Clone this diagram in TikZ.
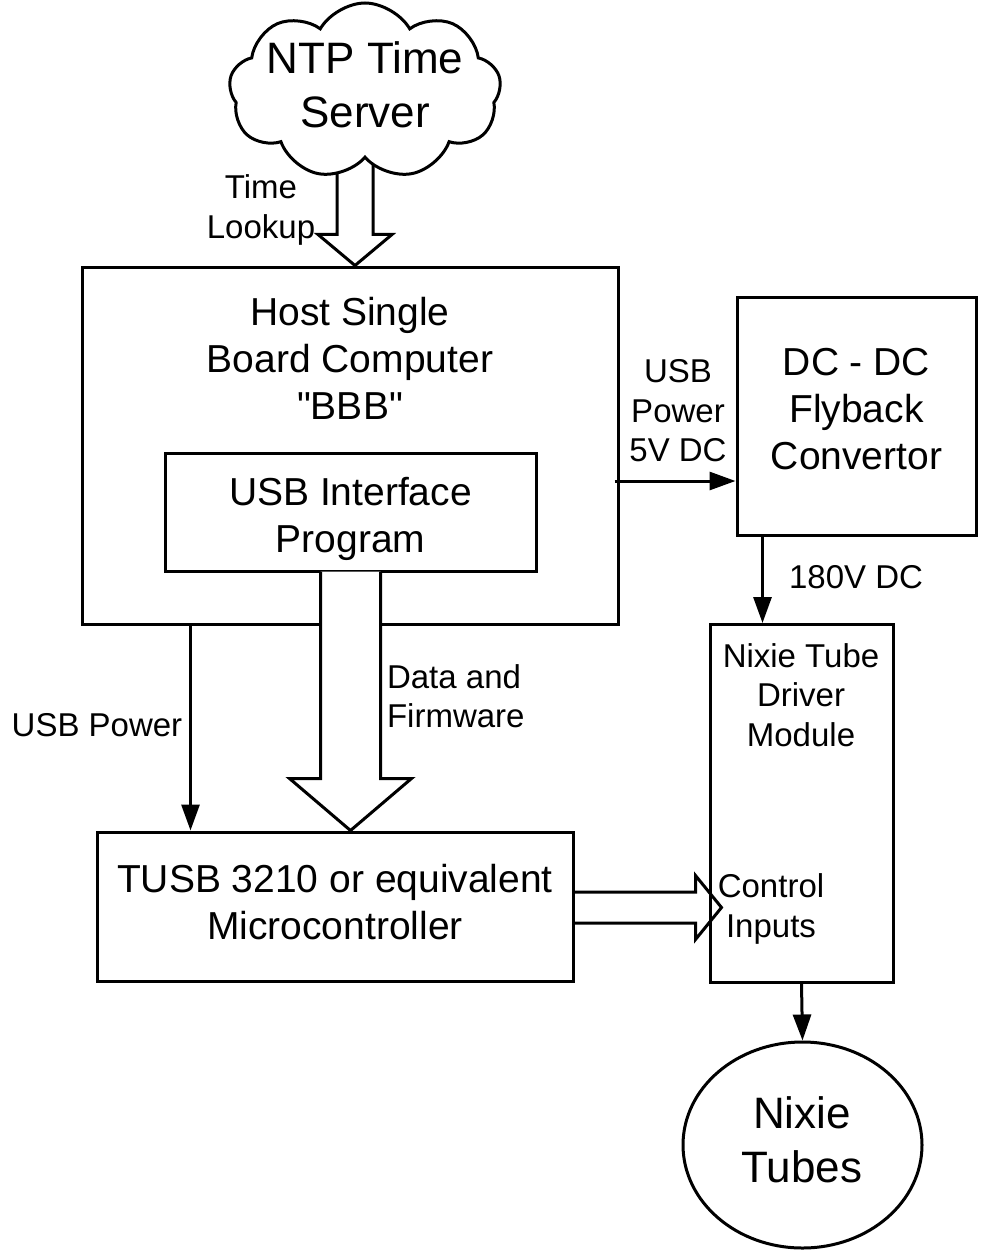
\documentclass[tikz,border=0pt]{standalone}
\usepackage{fontspec}
\setmainfont{Liberation Sans}[Ligatures=TeXOff]
\usetikzlibrary{shapes.geometric, shapes.symbols, arrows.meta, calc, backgrounds}
\tikzset{
  box/.style={rectangle, draw, line width=1.5pt, align=center, inner sep=2pt},
  hugetxt/.style={font=\fontsize{22}{27}\selectfont, align=center},
  bigtxt/.style={font=\fontsize{19.5}{23.5}\selectfont, align=center},
  smalltxt/.style={font=\fontsize{16.5}{19.75}\selectfont, align=center},
  arrow/.style={-{Triangle[length=13pt, width=9pt]}, line width=1.5pt},
  hollow/.style={draw, line width=1.5pt, line join=miter},
}

\begin{document}
\begin{tikzpicture}[x=0.5pt, y=-0.5pt]
    \useasboundingbox (0,0) rectangle (985,1257);
    % blocks
    \node[cloud, draw, line width=1.5pt, fill=white, cloud puffs=9, cloud puff arc=120, aspect=1.5, minimum width=136pt, minimum height=88pt] (ntp) at (365,91) {};
    \node[hugetxt] (ntptext) at (365,85) {NTP Time\\Server};
    \node[box, minimum width=268pt, minimum height=178.5pt] (host) at (350,445.5) {};
    \node[bigtxt] (hosttext) at (350,358) {Host Single\\Board Computer\\"BBB"};
    \node[box, minimum width=185.5pt, minimum height=59pt] (usbprog) at (350.5,512) {};
    \node[bigtxt] (usbprogtext) at (350.5,519) {USB Interface\\Program};
    \node[box, minimum width=238pt, minimum height=74.5pt] (tusb) at (335,906.5) {};
    \node[bigtxt] (tusbtext) at (335,902) {TUSB 3210 or equivalent\\Microcontroller};
    \node[box, minimum width=119.5pt, minimum height=119pt] (dcdc) at (856.5,416) {};
    \node[bigtxt] (dcdctext) at (856.5,409.5) {DC - DC\\Flyback\\Convertor};
    \node[box, minimum width=91.5pt, minimum height=179pt] (driver) at (801.5,803.5) {};
    \node[smalltxt] (drivertext) at (801,695) {Nixie Tube\\Driver\\Module};
    \node[smalltxt] (ctrltext) at (771,909) {Control\\Inputs};
    \node[ellipse, draw, line width=1.5pt, minimum width=119.5pt, minimum height=103pt] (tubes) at (802.5,1145) {};
    \node[hugetxt] (tubestext) at (802,1140) {Nixie\\Tubes};

    % block arrows
    \coordinate (lookuptip) at ($(host.north)+(5,0)$);
    \begin{pgfonlayer}{background}
      \draw[hollow] ($(lookuptip)+(-18,-117)$) -- ++(0,86) -- ++(-19,0) -- (lookuptip) -- ++(37,-31) -- ++(-19,0) -- ++(0,-86);
    \end{pgfonlayer}
    \coordinate (datatip) at (usbprog.south |- tusb.north);
    \draw[hollow, fill=white] ($(datatip)+(-30,-259)$) -- ++(0,207) -- ++(-31,0) -- (datatip) -- ++(61,-52) -- ++(-31,0) -- ++(0,-207);
    \coordinate (ctrltip) at ($(tusb.east -| driver.west)+(13,1)$);
    \draw[hollow] ($(ctrltip)+(-148.5,-15.5)$) -- ++(122.5,0) -- ++(0,-16.5) -- (ctrltip) -- ++(-26,32) -- ++(0,-16.5) -- ++(-122.5,0);

    % plain arrows
    \coordinate (pwrtop) at ($(host.south west)+(110,0)$);
    \draw[arrow] (pwrtop) -- (pwrtop |- tusb.north);
    \coordinate (fivetail) at ($(host.east)+(-5,35.5)$);
    \draw[arrow] (fivetail) -- (fivetail -| dcdc.west);
    \coordinate (hvtop) at ($(dcdc.south west)+(27,0)$);
    \draw[arrow] (hvtop) -- (hvtop |- driver.north);
    \draw[arrow] (driver.south) -- (tubes.north);

    % labels
    \node[smalltxt] (lookuplabel) at (261,210) {Time\\Lookup};
    \node[smalltxt] (pwrlabel) at (97,725) {USB Power};
    \node[smalltxt, align=left, anchor=west] (datalabel) at (380,696) {Data and\\Firmware};
    \node[smalltxt] (fivelabel) at (678,411) {USB\\Power\\5V DC};
    \node[smalltxt] (hvlabel) at (856,577) {180V DC};
\end{tikzpicture}
\end{document}
